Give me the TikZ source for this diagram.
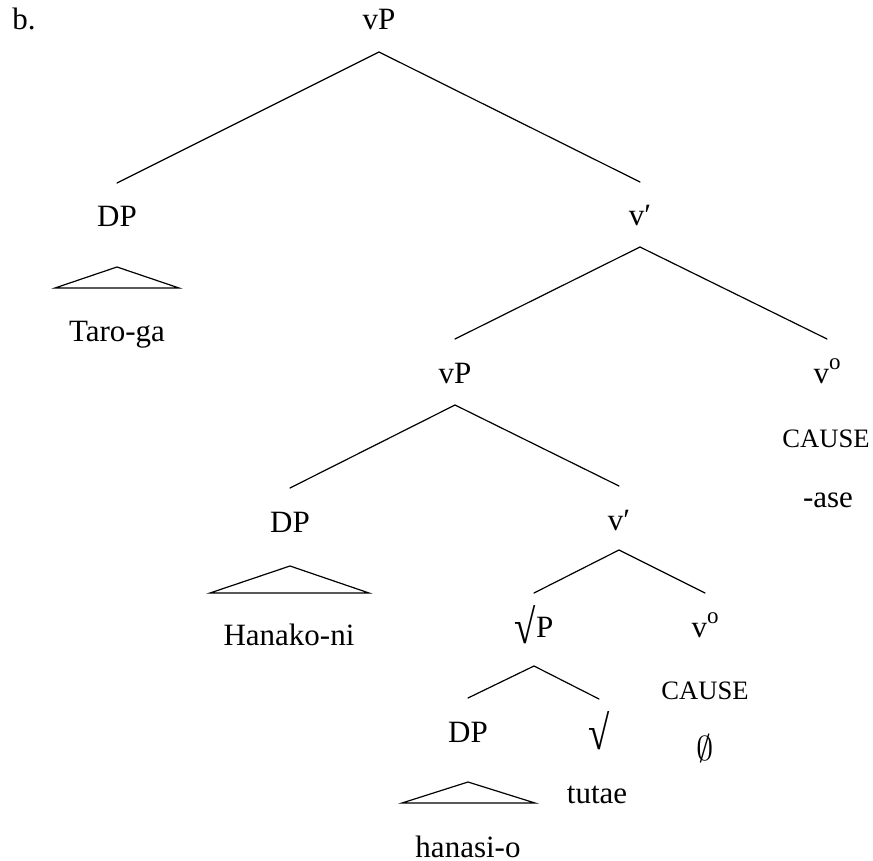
\documentclass[tikz,border=0pt]{standalone}
\usepackage{fontspec}
\setmainfont{Liberation Serif}
\newcommand{\myroot}{\raisebox{-0.2em}{\scalebox{1.25}[1.55]{√}}}
\newcommand{\vzero}{v\raisebox{0.42em}{\fontsize{11.5}{12}\selectfont o}}
\begin{document}
\begin{tikzpicture}[x=0.5pt,y=-0.5pt]
\tikzset{
  lab/.style={anchor=base,inner sep=0pt,font=\fontsize{15.5}{18}\selectfont},
  capsty/.style={anchor=base,inner sep=0pt,font=\fontsize{13.3}{16}\selectfont},
  br/.style={line width=0.6pt,line cap=round,line join=miter}
}
\useasboundingbox (0,0) rectangle (873,861);
% labels
\node[lab,anchor=base west] (b) at (12,30) {b.};
\node[lab] (vP1) at (379,30) {vP};
\node[lab] (DP1) at (117,227) {DP};
\node[lab] (taro) at (117,342) {Taro-ga};
\node[lab] (vb1) at (640,226) {v′};
\node[lab] (vP2) at (455,383) {vP};
\node[lab] (v0a) at (827,383) {\vzero};
\node[capsty] (c1) at (826,447) {CAUSE};
\node[lab] (ase) at (828,507) {-ase};
\node[lab] (DP2) at (290,532) {DP};
\node[lab] (hanako) at (289,645) {Hanako-ni};
\node[lab] (vb2) at (619,530) {v′};
\node[lab] (rP) at (534,637) {\myroot P};
\node[lab] (v0b) at (705,637) {\vzero};
\node[capsty] (c2) at (705,699) {CAUSE};
\node[lab] (emp) at (705,760) {\fontsize{16.5}{18}\selectfont$\emptyset$};
\node[lab] (DP3) at (468,742) {DP};
\node[lab] (rt) at (599,743) {\myroot};
\node[lab] (tutae) at (597,803) {tutae};
\node[lab] (hanasi) at (468,857) {hanasi-o};
% branches
\draw[br] ([yshift=22pt]DP1.base) -- ([yshift=-11pt]vP1.base) -- ([yshift=22pt]vb1.base);
\draw[br] ([yshift=22pt]vP2.base) -- ([yshift=-10.5pt]vb1.base) -- ([yshift=22pt]v0a.base);
\draw[br] ([yshift=22pt]DP2.base) -- ([yshift=-11pt]vP2.base) -- ([yshift=22pt]vb2.base);
\draw[br] ([yshift=22pt]rP.base) -- ([yshift=-10pt]vb2.base) -- ([yshift=22pt]v0b.base);
\draw[br] ([yshift=22pt]DP3.base) -- ([yshift=-14.5pt]rP.base) -- ([yshift=22pt]rt.base);
% triangles
\draw[br] ([yshift=-20pt]DP1.base) -- ++(-62,21) -- ++(124,0) -- cycle;
\draw[br] ([yshift=-17pt]DP2.base) -- ++(-80,27) -- ++(159,0) -- cycle;
\draw[br] ([yshift=-20pt]DP3.base) -- ++(-66,21) -- ++(133,0) -- cycle;
\end{tikzpicture}
\end{document}
